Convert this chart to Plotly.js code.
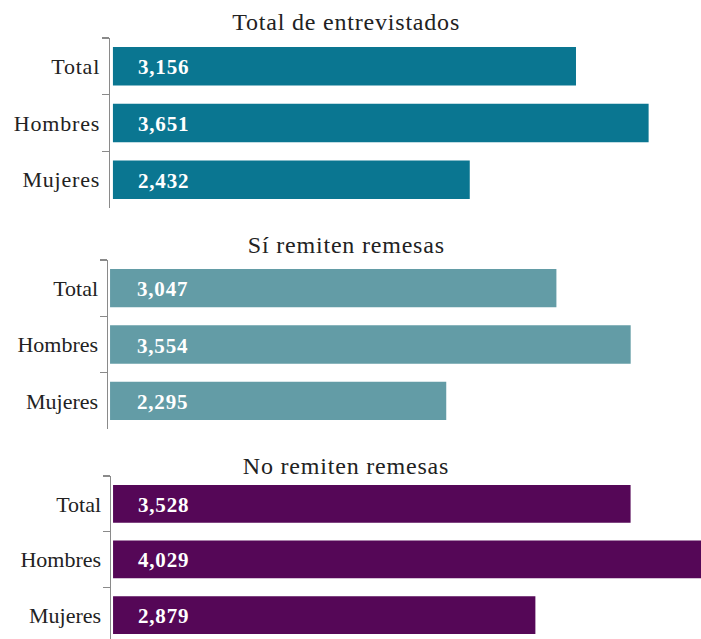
<!DOCTYPE html>
<html><head><meta charset="utf-8">
<script src="https://cdn.plot.ly/plotly-3.0.1.min.js"></script>
<style>
html,body{margin:0;padding:0;overflow:hidden;background:#fff}
#chart .ytick text{letter-spacing:0.8px}
#chart .annotation text{letter-spacing:0.8px}
</style>
</head><body><div id="chart" style="width:701px;height:639px"></div>
<script>
const categories = ['Total', 'Hombres', 'Mujeres'];
const panelTitles = ['Total de entrevistados', 'Sí remiten remesas', 'No remiten remesas'];
const totalEntrevistados = [3156, 3651, 2432];
const siRemiten = [3047, 3554, 2295];
const noRemiten = [3528, 4029, 2879];

const series = [totalEntrevistados, siRemiten, noRemiten];
const colors = ['#0a7691', '#639ca6', '#550757'];
const FONT = '"Liberation Serif", "Times New Roman", serif';
const H = 639, W = 701;

const xDomains = [[110 / W, 1], [108 / W, 1], [111 / W, 1]];
const yDomains = [[(H - 208) / H, (H - 38) / H], [(H - 429) / H, (H - 260) / H], [0, (H - 476) / H]];
const xRanges = [[-20, 4008], [-14, 4034], [-14, 4008]];
const yRanges = [[2.5, -0.5], [2.5, -0.5], [2.43, -0.5]];
const titleY = [22, 245, 466];
const labelShift = [25, 27, 25];

const data = [];
const layout = {
  width: W, height: H,
  margin: {l: 0, r: 0, t: 0, b: 0},
  paper_bgcolor: '#fff', plot_bgcolor: '#fff',
  showlegend: false,
  font: {family: FONT, color: '#222'},
  annotations: []
};

series.forEach((vals, i) => {
  const sx = i === 0 ? '' : String(i + 1);
  data.push({
    type: 'bar', orientation: 'h',
    x: vals, y: categories,
    xaxis: 'x' + sx, yaxis: 'y' + sx,
    marker: {color: colors[i]},
    width: 0.68,
    hoverinfo: 'none'
  });
  layout['xaxis' + sx] = {
    domain: xDomains[i], range: xRanges[i], visible: false,
    anchor: 'y' + sx, fixedrange: true
  };
  layout['yaxis' + sx] = {
    domain: yDomains[i], anchor: 'x' + sx,
    type: 'category', categoryorder: 'array', categoryarray: categories,
    range: yRanges[i],
    showline: true, linecolor: '#8a8a8a', linewidth: 1.5,
    ticks: 'outside', tickson: 'boundaries', ticklen: 7, tickwidth: 1.5, tickcolor: '#8a8a8a',
    ticklabelstandoff: 4,
    showgrid: false, zeroline: false,
    tickfont: {family: FONT, size: 22, color: '#222'},
    fixedrange: true
  };
  layout.annotations.push({
    xref: 'paper', yref: 'paper', x: 346 / W, y: (H - titleY[i]) / H,
    xanchor: 'center', yanchor: 'middle', showarrow: false,
    text: panelTitles[i], font: {family: FONT, size: 24, color: '#222'}
  });
  vals.forEach((v, j) => {
    layout.annotations.push({
      xref: 'x' + sx, yref: 'y' + sx, x: 0, y: categories[j],
      xanchor: 'left', yanchor: 'middle', xshift: labelShift[i], yshift: -1, showarrow: false,
      text: '<b>' + v.toLocaleString('en-US') + '</b>',
      font: {family: FONT, size: 21, color: '#fff'}
    });
  });
});

Plotly.newPlot('chart', data, layout, {displayModeBar: false, staticPlot: true});
</script></body></html>
